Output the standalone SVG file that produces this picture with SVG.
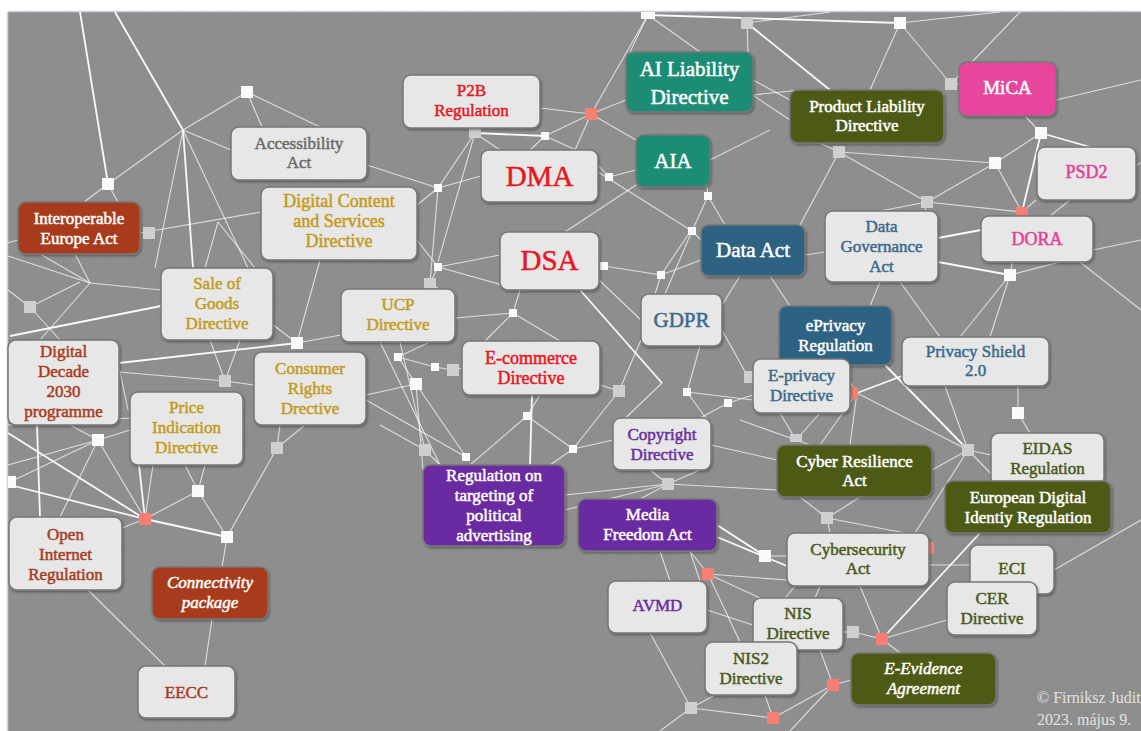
<svg xmlns="http://www.w3.org/2000/svg" width="1141" height="731" viewBox="0 0 1141 731">
<defs>
<pattern id="tex" width="18" height="18" patternUnits="userSpaceOnUse" patternTransform="rotate(-55)">
<line x1="0" y1="4" x2="18" y2="4" stroke="#7a7a7a" stroke-width="1" opacity="0.18"/>
<line x1="3" y1="12" x2="14" y2="12" stroke="#a0a0a0" stroke-width="0.8" opacity="0.15"/>
</pattern>
<filter id="sh" x="-10%" y="-10%" width="125%" height="130%">
<feDropShadow dx="1" dy="1.5" stdDeviation="1.2" flood-color="#000" flood-opacity="0.35"/>
</filter>
</defs>
<style>
.c{stroke:#ffffff;stroke-width:1.1;opacity:0.7;fill:none}
.cb{stroke:#ffffff;stroke-width:1.8;opacity:0.95;fill:none}
.jw{fill:#fafafa}
.js{fill:#fafafa}
.jg{fill:#cfcfcf}
.jr{fill:#f47f72}
.b{stroke:#777777;stroke-width:1.5;filter:url(#sh)}
.lt{fill:#e7e7e7}
.rust{fill:#a83a1b}
.teal{fill:#1f8c74}
.blue{fill:#2e6283}
.olive{fill:#4e5a17}
.pink{fill:#e8449c}
.purple{fill:#6a2aa2}
text{font-family:"Liberation Serif","DejaVu Serif",serif;text-anchor:middle;font-size:17px;stroke-width:0.5}
.w{fill:#ffffff;stroke:#ffffff}
.tg{fill:#6b6b6b;stroke:#6b6b6b}
.tgold{fill:#c49b1c;stroke:#c49b1c}
.trust{fill:#a83c1e;stroke:#a83c1e}
.tred{fill:#e8161e;stroke:#e8161e}
.tblue{fill:#3b6a8d;stroke:#3b6a8d}
.tpink{fill:#e63e98;stroke:#e63e98}
.tpur{fill:#6a2ea0;stroke:#6a2ea0}
.tol{fill:#4b5a1a;stroke:#4b5a1a}
.it{font-style:italic}
</style>
<rect x="0" y="0" width="1141" height="731" fill="#ffffff"/>
<rect x="8" y="12" width="1133" height="719" fill="#8e8e8e"/>
<rect x="8" y="12" width="1133" height="719" fill="url(#tex)"/>
<line x1="8" y1="11.5" x2="1141" y2="11.5" stroke="#c9d3de" stroke-width="1.5"/>
<line x1="7.5" y1="12" x2="7.5" y2="731" stroke="#c9d3de" stroke-width="1.5"/>

<g id="connectors">
<line class="cb" x1="80" y1="12" x2="108" y2="184"/>
<line class="cb" x1="115" y1="12" x2="183" y2="130"/>
<line class="c" x1="183" y1="130" x2="247" y2="92"/>
<line class="c" x1="183" y1="130" x2="108" y2="184"/>
<line class="c" x1="183" y1="130" x2="231" y2="150"/>
<line class="cb" x1="183" y1="130" x2="193" y2="268"/>
<line class="c" x1="183" y1="130" x2="155" y2="268"/>
<line class="c" x1="183" y1="130" x2="248" y2="268"/>
<line class="c" x1="247" y1="92" x2="262" y2="127"/>
<line class="c" x1="247" y1="92" x2="320" y2="127"/>
<line class="c" x1="108" y1="184" x2="84" y2="202"/>
<line class="c" x1="108" y1="184" x2="118" y2="202"/>
<line class="c" x1="140" y1="233" x2="261" y2="212"/>
<line class="c" x1="218" y1="222" x2="205" y2="268"/>
<line class="c" x1="218" y1="222" x2="255" y2="268"/>
<line class="c" x1="0" y1="245" x2="18" y2="240"/>
<line class="c" x1="75" y1="254" x2="90" y2="283"/>
<line class="c" x1="8" y1="256" x2="90" y2="283"/>
<line class="c" x1="90" y1="283" x2="161" y2="290"/>
<line class="c" x1="90" y1="283" x2="40" y2="340"/>
<line class="c" x1="90" y1="283" x2="40" y2="254"/>
<line class="c" x1="30" y1="307" x2="8" y2="290"/>
<line class="c" x1="30" y1="307" x2="60" y2="340"/>
<line class="c" x1="30" y1="307" x2="80" y2="282"/>
<line class="cb" x1="10" y1="336" x2="161" y2="306"/>
<line class="cb" x1="119" y1="363" x2="297" y2="343"/>
<line class="c" x1="297" y1="343" x2="341" y2="335"/>
<line class="c" x1="297" y1="343" x2="320" y2="260"/>
<line class="c" x1="297" y1="343" x2="260" y2="315"/>
<line class="c" x1="119" y1="372" x2="225" y2="381"/>
<line class="c" x1="225" y1="381" x2="210" y2="340"/>
<line class="c" x1="225" y1="381" x2="240" y2="340"/>
<line class="c" x1="225" y1="381" x2="254" y2="385"/>
<line class="c" x1="119" y1="367" x2="128" y2="410"/>
<line class="c" x1="8" y1="425" x2="130" y2="418"/>
<line class="c" x1="98" y1="440" x2="70" y2="425"/>
<line class="c" x1="98" y1="440" x2="130" y2="430"/>
<line class="c" x1="98" y1="440" x2="145" y2="519"/>
<line class="c" x1="98" y1="440" x2="60" y2="517"/>
<line class="c" x1="98" y1="440" x2="10" y2="482"/>
<line class="cb" x1="10" y1="485" x2="145" y2="519"/>
<line class="cb" x1="8" y1="433" x2="145" y2="519"/>
<line class="cb" x1="37" y1="425" x2="40" y2="517"/>
<line class="c" x1="122" y1="528" x2="145" y2="519"/>
<line class="cb" x1="145" y1="519" x2="139" y2="465"/>
<line class="c" x1="145" y1="519" x2="153" y2="465"/>
<line class="c" x1="145" y1="519" x2="198" y2="491"/>
<line class="cb" x1="145" y1="519" x2="227" y2="537"/>
<line class="c" x1="198" y1="491" x2="185" y2="465"/>
<line class="c" x1="198" y1="491" x2="205" y2="465"/>
<line class="c" x1="198" y1="491" x2="227" y2="537"/>
<line class="c" x1="227" y1="537" x2="277" y2="448"/>
<line class="c" x1="277" y1="448" x2="280" y2="425"/>
<line class="c" x1="277" y1="448" x2="305" y2="425"/>
<line class="c" x1="227" y1="537" x2="222" y2="567"/>
<line class="c" x1="212" y1="619" x2="205" y2="666"/>
<line class="c" x1="88" y1="590" x2="165" y2="666"/>
<line class="c" x1="8" y1="465" x2="98" y2="440"/>
<line class="c" x1="367" y1="165" x2="438" y2="188"/>
<line class="c" x1="438" y1="188" x2="481" y2="176"/>
<line class="c" x1="438" y1="188" x2="475" y2="133"/>
<line class="c" x1="438" y1="188" x2="430" y2="283"/>
<line class="c" x1="438" y1="188" x2="417" y2="205"/>
<line class="c" x1="475" y1="133" x2="500" y2="150"/>
<line class="c" x1="475" y1="133" x2="438" y2="262"/>
<line class="c" x1="540" y1="108" x2="591" y2="114"/>
<line class="c" x1="591" y1="114" x2="648" y2="15"/>
<line class="c" x1="591" y1="114" x2="626" y2="100"/>
<line class="c" x1="591" y1="114" x2="545" y2="136"/>
<line class="c" x1="591" y1="114" x2="575" y2="150"/>
<line class="c" x1="591" y1="114" x2="636" y2="140"/>
<line class="cb" x1="545" y1="136" x2="475" y2="133"/>
<line class="c" x1="545" y1="136" x2="530" y2="150"/>
<line class="c" x1="545" y1="136" x2="598" y2="160"/>
<line class="c" x1="598" y1="165" x2="609" y2="177"/>
<line class="c" x1="609" y1="177" x2="636" y2="170"/>
<line class="c" x1="598" y1="172" x2="692" y2="231"/>
<line class="c" x1="692" y1="231" x2="701" y2="240"/>
<line class="c" x1="692" y1="231" x2="708" y2="196"/>
<line class="c" x1="692" y1="231" x2="665" y2="294"/>
<line class="c" x1="708" y1="196" x2="705" y2="170"/>
<line class="c" x1="708" y1="196" x2="725" y2="225"/>
<line class="c" x1="710" y1="160" x2="770" y2="130"/>
<line class="c" x1="636" y1="185" x2="565" y2="232"/>
<line class="c" x1="599" y1="263" x2="604" y2="266"/>
<line class="c" x1="604" y1="266" x2="661" y2="275"/>
<line class="c" x1="661" y1="275" x2="701" y2="260"/>
<line class="c" x1="661" y1="275" x2="690" y2="232"/>
<line class="c" x1="661" y1="275" x2="655" y2="294"/>
<line class="c" x1="438" y1="267" x2="500" y2="255"/>
<line class="c" x1="438" y1="267" x2="417" y2="240"/>
<line class="c" x1="438" y1="267" x2="430" y2="283"/>
<line class="c" x1="438" y1="267" x2="520" y2="290"/>
<line class="c" x1="430" y1="283" x2="417" y2="300"/>
<line class="c" x1="430" y1="283" x2="455" y2="300"/>
<line class="c" x1="455" y1="318" x2="513" y2="313"/>
<line class="c" x1="513" y1="313" x2="520" y2="290"/>
<line class="c" x1="513" y1="313" x2="560" y2="341"/>
<line class="c" x1="513" y1="313" x2="485" y2="341"/>
<line class="c" x1="599" y1="280" x2="641" y2="320"/>
<line class="cb" x1="580" y1="290" x2="662" y2="383"/>
<line class="c" x1="662" y1="383" x2="613" y2="430"/>
<line class="c" x1="455" y1="330" x2="398" y2="357"/>
<line class="c" x1="398" y1="357" x2="435" y2="367"/>
<line class="c" x1="398" y1="357" x2="416" y2="384"/>
<line class="c" x1="435" y1="367" x2="453" y2="370"/>
<line class="c" x1="453" y1="370" x2="462" y2="368"/>
<line class="c" x1="416" y1="384" x2="466" y2="457"/>
<line class="c" x1="416" y1="384" x2="423" y2="470"/>
<line class="c" x1="366" y1="395" x2="416" y2="384"/>
<line class="c" x1="366" y1="400" x2="466" y2="457"/>
<line class="c" x1="400" y1="342" x2="425" y2="450"/>
<line class="c" x1="380" y1="342" x2="440" y2="465"/>
<line class="c" x1="425" y1="450" x2="380" y2="425"/>
<line class="c" x1="425" y1="450" x2="440" y2="465"/>
<line class="cb" x1="532" y1="395" x2="530" y2="465"/>
<line class="c" x1="527" y1="416" x2="540" y2="395"/>
<line class="c" x1="527" y1="416" x2="470" y2="465"/>
<line class="c" x1="527" y1="416" x2="573" y2="449"/>
<line class="c" x1="573" y1="449" x2="550" y2="465"/>
<line class="c" x1="573" y1="449" x2="613" y2="440"/>
<line class="c" x1="600" y1="385" x2="619" y2="391"/>
<line class="c" x1="619" y1="391" x2="641" y2="340"/>
<line class="c" x1="619" y1="391" x2="573" y2="449"/>
<line class="c" x1="687" y1="392" x2="700" y2="346"/>
<line class="c" x1="687" y1="392" x2="753" y2="400"/>
<line class="c" x1="687" y1="392" x2="711" y2="425"/>
<line class="c" x1="728" y1="403" x2="753" y2="395"/>
<line class="c" x1="728" y1="403" x2="700" y2="418"/>
<line class="c" x1="748" y1="377" x2="753" y2="377"/>
<line class="c" x1="722" y1="330" x2="748" y2="377"/>
<line class="c" x1="565" y1="495" x2="668" y2="484"/>
<line class="c" x1="565" y1="510" x2="668" y2="484"/>
<line class="c" x1="668" y1="484" x2="650" y2="470"/>
<line class="c" x1="668" y1="484" x2="711" y2="465"/>
<line class="c" x1="668" y1="484" x2="777" y2="490"/>
<line class="c" x1="668" y1="484" x2="640" y2="499"/>
<line class="c" x1="711" y1="445" x2="777" y2="460"/>
<line class="cb" x1="648" y1="15" x2="900" y2="23"/>
<line class="c" x1="648" y1="15" x2="700" y2="52"/>
<line class="c" x1="648" y1="15" x2="630" y2="52"/>
<line class="c" x1="747" y1="23" x2="830" y2="12"/>
<line class="c" x1="747" y1="23" x2="748" y2="52"/>
<line class="cb" x1="747" y1="23" x2="830" y2="90"/>
<line class="c" x1="753" y1="95" x2="800" y2="90"/>
<line class="c" x1="753" y1="80" x2="790" y2="100"/>
<line class="c" x1="900" y1="23" x2="951" y2="84"/>
<line class="c" x1="900" y1="23" x2="870" y2="90"/>
<line class="c" x1="900" y1="23" x2="1000" y2="12"/>
<line class="c" x1="951" y1="84" x2="959" y2="84"/>
<line class="c" x1="951" y1="84" x2="1020" y2="12"/>
<line class="c" x1="1056" y1="100" x2="1141" y2="80"/>
<line class="c" x1="1041" y1="133" x2="1025" y2="116"/>
<line class="cb" x1="1041" y1="133" x2="1090" y2="147"/>
<line class="c" x1="1041" y1="133" x2="995" y2="163"/>
<line class="cb" x1="1041" y1="133" x2="1022" y2="212"/>
<line class="c" x1="995" y1="163" x2="839" y2="152"/>
<line class="c" x1="995" y1="163" x2="1022" y2="212"/>
<line class="c" x1="995" y1="163" x2="927" y2="202"/>
<line class="c" x1="839" y1="152" x2="800" y2="225"/>
<line class="c" x1="839" y1="152" x2="927" y2="202"/>
<line class="c" x1="839" y1="152" x2="820" y2="143"/>
<line class="c" x1="790" y1="120" x2="700" y2="60"/>
<line class="c" x1="927" y1="202" x2="1022" y2="212"/>
<line class="c" x1="927" y1="202" x2="925" y2="211"/>
<line class="c" x1="927" y1="202" x2="880" y2="211"/>
<line class="c" x1="1022" y1="212" x2="1010" y2="275"/>
<line class="c" x1="1036" y1="200" x2="1022" y2="212"/>
<line class="c" x1="1136" y1="165" x2="1141" y2="163"/>
<line class="cb" x1="938" y1="238" x2="981" y2="230"/>
<line class="cb" x1="938" y1="262" x2="1010" y2="275"/>
<line class="c" x1="1010" y1="275" x2="960" y2="337"/>
<line class="c" x1="1010" y1="275" x2="990" y2="337"/>
<line class="c" x1="1010" y1="275" x2="1060" y2="262"/>
<line class="c" x1="1070" y1="200" x2="1050" y2="216"/>
<line class="c" x1="805" y1="255" x2="825" y2="252"/>
<line class="c" x1="770" y1="276" x2="790" y2="306"/>
<line class="c" x1="740" y1="276" x2="722" y2="305"/>
<line class="c" x1="880" y1="282" x2="870" y2="306"/>
<line class="c" x1="900" y1="282" x2="940" y2="337"/>
<line class="c" x1="1093" y1="250" x2="1141" y2="240"/>
<line class="c" x1="1080" y1="262" x2="1141" y2="310"/>
<line class="c" x1="850" y1="382" x2="857" y2="393"/>
<line class="cb" x1="857" y1="393" x2="902" y2="376"/>
<line class="c" x1="857" y1="393" x2="820" y2="445"/>
<line class="c" x1="857" y1="393" x2="850" y2="445"/>
<line class="c" x1="857" y1="393" x2="968" y2="450"/>
<line class="cb" x1="885" y1="365" x2="968" y2="450"/>
<line class="c" x1="968" y1="450" x2="991" y2="455"/>
<line class="c" x1="968" y1="450" x2="998" y2="481"/>
<line class="c" x1="968" y1="450" x2="932" y2="470"/>
<line class="c" x1="968" y1="450" x2="945" y2="386"/>
<line class="c" x1="968" y1="450" x2="915" y2="533"/>
<line class="c" x1="1018" y1="413" x2="1018" y2="386"/>
<line class="c" x1="1018" y1="413" x2="1030" y2="433"/>
<line class="c" x1="796" y1="440" x2="780" y2="413"/>
<line class="c" x1="796" y1="440" x2="810" y2="445"/>
<line class="c" x1="796" y1="440" x2="740" y2="420"/>
<line class="c" x1="796" y1="440" x2="820" y2="413"/>
<line class="c" x1="827" y1="518" x2="800" y2="497"/>
<line class="c" x1="827" y1="518" x2="830" y2="533"/>
<line class="c" x1="827" y1="518" x2="860" y2="497"/>
<line class="c" x1="827" y1="518" x2="905" y2="533"/>
<line class="cb" x1="717" y1="525" x2="765" y2="556"/>
<line class="cb" x1="717" y1="537" x2="787" y2="566"/>
<line class="c" x1="765" y1="556" x2="787" y2="556"/>
<line class="c" x1="690" y1="551" x2="700" y2="581"/>
<line class="c" x1="660" y1="551" x2="670" y2="581"/>
<line class="c" x1="708" y1="574" x2="760" y2="598"/>
<line class="c" x1="708" y1="574" x2="787" y2="580"/>
<line class="c" x1="708" y1="574" x2="740" y2="642"/>
<line class="c" x1="708" y1="574" x2="690" y2="551"/>
<line class="c" x1="650" y1="633" x2="691" y2="708"/>
<line class="c" x1="691" y1="708" x2="715" y2="695"/>
<line class="c" x1="691" y1="708" x2="773" y2="718"/>
<line class="c" x1="691" y1="708" x2="660" y2="731"/>
<line class="c" x1="707" y1="610" x2="753" y2="625"/>
<line class="c" x1="773" y1="718" x2="765" y2="695"/>
<line class="c" x1="773" y1="718" x2="833" y2="685"/>
<line class="c" x1="833" y1="685" x2="851" y2="680"/>
<line class="c" x1="833" y1="685" x2="820" y2="650"/>
<line class="c" x1="833" y1="685" x2="790" y2="731"/>
<line class="c" x1="843" y1="632" x2="853" y2="632"/>
<line class="c" x1="853" y1="632" x2="882" y2="639"/>
<line class="c" x1="882" y1="639" x2="947" y2="620"/>
<line class="c" x1="882" y1="639" x2="860" y2="586"/>
<line class="cb" x1="882" y1="639" x2="980" y2="533"/>
<line class="c" x1="882" y1="639" x2="900" y2="653"/>
<line class="c" x1="929" y1="565" x2="970" y2="565"/>
<line class="c" x1="820" y1="586" x2="815" y2="598"/>
<line class="c" x1="795" y1="586" x2="785" y2="598"/>
<line class="c" x1="1054" y1="570" x2="1141" y2="520"/>
</g>

<g id="junctions">
<rect class="jw" x="241" y="86" width="12" height="12"/>
<rect class="jw" x="102" y="178" width="12" height="12"/>
<rect class="jg" x="143" y="227" width="12" height="12"/>
<rect class="jg" x="24" y="301" width="12" height="12"/>
<rect class="jw" x="291" y="337" width="12" height="12"/>
<rect class="jg" x="219" y="375" width="12" height="12"/>
<rect class="jw" x="92" y="434" width="12" height="12"/>
<rect class="jw" x="8" y="476" width="8" height="12"/>
<rect class="jw" x="192" y="485" width="12" height="12"/>
<rect class="jr" x="139" y="513" width="12" height="12"/>
<rect class="jw" x="221" y="531" width="12" height="12"/>
<rect class="jg" x="271" y="442" width="12" height="12"/>
<rect class="jw" x="641" y="12" width="14" height="7"/>
<rect class="jg" x="741" y="17" width="12" height="12"/>
<rect class="jr" x="585" y="108" width="12" height="12"/>
<rect class="js" x="541" y="132" width="8" height="8"/>
<rect class="jg" x="469" y="128" width="12" height="10"/>
<rect class="js" x="434" y="184" width="8" height="8"/>
<rect class="js" x="605" y="173" width="8" height="8"/>
<rect class="js" x="704" y="192" width="8" height="8"/>
<rect class="js" x="688" y="227" width="8" height="8"/>
<rect class="js" x="434" y="263" width="8" height="8"/>
<rect class="js" x="600" y="262" width="8" height="8"/>
<rect class="js" x="657" y="271" width="8" height="8"/>
<rect class="jg" x="424" y="278" width="12" height="10"/>
<rect class="jw" x="894" y="17" width="12" height="12"/>
<rect class="jg" x="945" y="78" width="12" height="12"/>
<rect class="jw" x="1035" y="127" width="12" height="12"/>
<rect class="jw" x="989" y="157" width="12" height="12"/>
<rect class="jg" x="833" y="146" width="12" height="12"/>
<rect class="jg" x="921" y="196" width="12" height="12"/>
<rect class="jr" x="1016" y="207" width="12" height="9"/>
<rect class="jw" x="1004" y="269" width="12" height="12"/>
<rect class="js" x="509" y="309" width="8" height="8"/>
<rect class="js" x="394" y="353" width="8" height="8"/>
<rect class="js" x="431" y="363" width="8" height="8"/>
<rect class="jg" x="447" y="364" width="12" height="12"/>
<rect class="jw" x="410" y="378" width="12" height="12"/>
<rect class="js" x="523" y="412" width="8" height="8"/>
<rect class="jg" x="419" y="444" width="12" height="12"/>
<rect class="js" x="462" y="453" width="8" height="8"/>
<rect class="js" x="569" y="445" width="8" height="8"/>
<rect class="jg" x="613" y="385" width="12" height="12"/>
<rect class="js" x="683" y="388" width="8" height="8"/>
<rect class="js" x="724" y="399" width="8" height="8"/>
<rect class="jg" x="744" y="371" width="9" height="12"/>
<rect class="jg" x="662" y="478" width="12" height="12"/>
<rect class="jw" x="759" y="550" width="12" height="12"/>
<rect class="jr" x="702" y="568" width="12" height="12"/>
<rect class="jg" x="685" y="702" width="12" height="12"/>
<rect class="jr" x="767" y="712" width="12" height="12"/>
<rect class="jr" x="850" y="387" width="8" height="12"/>
<rect class="jw" x="1012" y="407" width="12" height="12"/>
<rect class="jg" x="790" y="434" width="12" height="8"/>
<rect class="jg" x="962" y="444" width="12" height="12"/>
<rect class="jg" x="821" y="512" width="12" height="12"/>
<rect class="jr" x="929" y="542" width="5" height="12"/>
<rect class="jg" x="847" y="626" width="12" height="12"/>
<rect class="jr" x="876" y="633" width="12" height="12"/>
<rect class="jr" x="827" y="679" width="12" height="12"/>
</g>

<g id="n-interoperable"><rect class="b rust" x="18" y="202" width="122" height="52" rx="8"/><text class="w" x="79" y="224">Interoperable<tspan x="79" dy="20">Europe Act</tspan></text></g>
<g id="n-accessibility"><rect class="b lt" x="231" y="127" width="136" height="53" rx="8"/><text class="tg" x="299" y="149">Accessibility<tspan x="299" dy="19">Act</tspan></text></g>
<g id="n-sale-goods"><rect class="b lt" x="161" y="268" width="112" height="72" rx="8"/><text class="tgold" x="217" y="289">Sale of<tspan x="217" dy="20">Goods</tspan><tspan x="217" dy="20">Directive</tspan></text></g>
<g id="n-digital-content"><rect class="b lt" x="261" y="187" width="156" height="73" rx="8"/><text class="tgold" x="339" y="207" style="font-size:18px">Digital Content<tspan x="339" dy="20">and Services</tspan><tspan x="339" dy="20">Directive</tspan></text></g>
<g id="n-ucp"><rect class="b lt" x="341" y="289" width="114" height="53" rx="8"/><text class="tgold" x="398" y="310">UCP<tspan x="398" dy="20">Directive</tspan></text></g>
<g id="n-digital-decade"><rect class="b lt" x="8" y="340" width="111" height="85" rx="8"/><text class="trust" x="63.5" y="357">Digital<tspan x="63.5" dy="20">Decade</tspan><tspan x="63.5" dy="20">2030</tspan><tspan x="63.5" dy="20">programme</tspan></text></g>
<g id="n-consumer-rights"><rect class="b lt" x="254" y="352" width="112" height="73" rx="8"/><text class="tgold" x="310" y="374">Consumer<tspan x="310" dy="20">Rights</tspan><tspan x="310" dy="20">Drective</tspan></text></g>
<g id="n-price-indication"><rect class="b lt" x="130" y="392" width="113" height="73" rx="8"/><text class="tgold" x="186.5" y="413">Price<tspan x="186.5" dy="20">Indication</tspan><tspan x="186.5" dy="20">Directive</tspan></text></g>
<g id="n-open-internet"><rect class="b lt" x="9" y="517" width="113" height="73" rx="8"/><text class="trust" x="65.5" y="540">Open<tspan x="65.5" dy="20">Internet</tspan><tspan x="65.5" dy="20">Regulation</tspan></text></g>
<g id="n-connectivity"><rect class="b rust" x="152" y="567" width="116" height="52" rx="8"/><text class="w it" x="210" y="588">Connectivity<tspan x="210" dy="20">package</tspan></text></g>
<g id="n-eecc"><rect class="b lt" x="138" y="666" width="97" height="52" rx="8"/><text class="trust" x="186.5" y="698">EECC</text></g>
<g id="n-p2b"><rect class="b lt" x="403" y="75" width="137" height="53" rx="8"/><text class="tred" x="471.5" y="96">P2B<tspan x="471.5" dy="20">Regulation</tspan></text></g>
<g id="n-dma"><rect class="b lt" x="481" y="150" width="117" height="52" rx="8"/><text class="tred" x="539.5" y="186" style="font-size:29px">DMA</text></g>
<g id="n-dsa"><rect class="b lt" x="500" y="232" width="99" height="58" rx="8"/><text class="tred" x="549.5" y="270" style="font-size:29px">DSA</text></g>
<g id="n-ai-liability"><rect class="b teal" x="626" y="52" width="127" height="60" rx="8"/><text class="w" x="689.5" y="76" style="font-size:21px">AI Liability<tspan x="689.5" dy="28">Directive</tspan></text></g>
<g id="n-aia"><rect class="b teal" x="636" y="135" width="74" height="52" rx="8"/><text class="w" x="673" y="168" style="font-size:21px">AIA</text></g>
<g id="n-data-act"><rect class="b blue" x="701" y="225" width="104" height="51" rx="8"/><text class="w" x="753" y="257" style="font-size:21px">Data Act</text></g>
<g id="n-data-governance"><rect class="b lt" x="825" y="211" width="113" height="71" rx="8"/><text class="tblue" x="881.5" y="232">Data<tspan x="881.5" dy="20">Governance</tspan><tspan x="881.5" dy="20">Act</tspan></text></g>
<g id="n-product-liability"><rect class="b olive" x="790" y="90" width="154" height="53" rx="8"/><text class="w" x="867" y="112">Product Liability<tspan x="867" dy="19">Directive</tspan></text></g>
<g id="n-mica"><rect class="b pink" x="959" y="62" width="97" height="54" rx="8"/><text class="w" x="1007.5" y="94" style="font-size:19px">MiCA</text></g>
<g id="n-psd2"><rect class="b lt" x="1037" y="147" width="99" height="53" rx="8"/><text class="tpink" x="1086.5" y="178" style="font-size:18px">PSD2</text></g>
<g id="n-dora"><rect class="b lt" x="981" y="216" width="112" height="46" rx="8"/><text class="tpink" x="1037" y="245" style="font-size:18px">DORA</text></g>
<g id="n-gdpr"><rect class="b lt" x="641" y="294" width="81" height="52" rx="8"/><text class="tblue" x="681.5" y="327" style="font-size:21px">GDPR</text></g>
<g id="n-ecommerce"><rect class="b lt" x="462" y="341" width="138" height="54" rx="8"/><text class="tred" x="531" y="364" style="font-size:18px">E-commerce<tspan x="531" dy="20">Directive</tspan></text></g>
<g id="n-eprivacy-reg"><rect class="b blue" x="779" y="306" width="113" height="59" rx="8"/><text class="w" x="835.5" y="331">ePrivacy<tspan x="835.5" dy="20">Regulation</tspan></text></g>
<g id="n-eprivacy-dir"><rect class="b lt" x="753" y="359" width="97" height="54" rx="8"/><text class="tblue" x="801.5" y="381">E-privacy<tspan x="801.5" dy="20">Directive</tspan></text></g>
<g id="n-privacy-shield"><rect class="b lt" x="902" y="337" width="147" height="49" rx="8"/><text class="tblue" x="975.5" y="357">Privacy Shield<tspan x="975.5" dy="19">2.0</tspan></text></g>
<g id="n-copyright"><rect class="b lt" x="613" y="418" width="98" height="52" rx="8"/><text class="tpur" x="662" y="440">Copyright<tspan x="662" dy="20">Directive</tspan></text></g>
<g id="n-political-ads"><rect class="b purple" x="423" y="465" width="142" height="81" rx="8"/><text class="w" x="494" y="481">Regulation on<tspan x="494" dy="20">targeting of</tspan><tspan x="494" dy="20">political</tspan><tspan x="494" dy="20">advertising</tspan></text></g>
<g id="n-media-freedom"><rect class="b purple" x="578" y="499" width="139" height="52" rx="8"/><text class="w" x="647.5" y="520">Media<tspan x="647.5" dy="20">Freedom Act</tspan></text></g>
<g id="n-cyber-resilience"><rect class="b olive" x="777" y="445" width="155" height="52" rx="8"/><text class="w" x="854.5" y="467">Cyber Resilience<tspan x="854.5" dy="19">Act</tspan></text></g>
<g id="n-eidas"><rect class="b lt" x="991" y="433" width="113" height="53" rx="8"/><text class="tol" x="1047.5" y="454">EIDAS<tspan x="1047.5" dy="20">Regulation</tspan></text></g>
<g id="n-eudi"><rect class="b olive" x="945" y="481" width="166" height="52" rx="8"/><text class="w" x="1028" y="503">European Digital<tspan x="1028" dy="20">Identiy Regulation</tspan></text></g>
<g id="n-cybersecurity"><rect class="b lt" x="787" y="533" width="142" height="53" rx="8"/><text class="tol" x="858" y="555">Cybersecurity<tspan x="858" dy="19">Act</tspan></text></g>
<g id="n-eci"><rect class="b lt" x="970" y="545" width="84" height="49" rx="8"/><text class="tol" x="1012" y="574">ECI</text></g>
<g id="n-cer"><rect class="b lt" x="947" y="582" width="90" height="53" rx="8"/><text class="tol" x="992" y="604">CER<tspan x="992" dy="20">Directive</tspan></text></g>
<g id="n-avmd"><rect class="b lt" x="608" y="581" width="99" height="52" rx="8"/><text class="tpur" x="657.5" y="611">AVMD</text></g>
<g id="n-nis"><rect class="b lt" x="753" y="598" width="90" height="52" rx="8"/><text class="tol" x="798" y="619">NIS<tspan x="798" dy="20">Directive</tspan></text></g>
<g id="n-nis2"><rect class="b lt" x="705" y="642" width="92" height="53" rx="8"/><text class="tol" x="751" y="664">NIS2<tspan x="751" dy="20">Directive</tspan></text></g>
<g id="n-e-evidence"><rect class="b olive" x="851" y="653" width="145" height="52" rx="8"/><text class="w it" x="923.5" y="674">E-Evidence<tspan x="923.5" dy="20">Agreement</tspan></text></g>

<g id="credit">
<text x="1037" y="703" style="text-anchor:start;font-size:16px;fill:#e2e2e2;stroke:none">© Firniksz Judit</text>
<text x="1037" y="725" style="text-anchor:start;font-size:16px;fill:#e2e2e2;stroke:none">2023. május 9.</text>
</g>
</svg>
